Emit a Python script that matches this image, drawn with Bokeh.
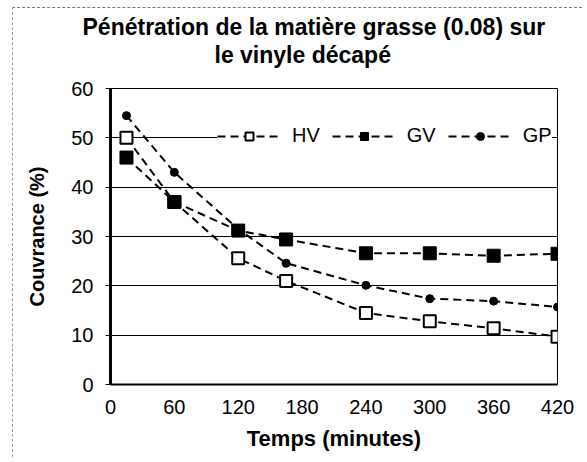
from bokeh.plotting import figure
from bokeh.models import Title, Legend, LegendItem, FixedTicker, Range1d
from bokeh.embed import file_html
from bokeh.resources import INLINE

# ---- data ----
temps = [15, 60, 120, 165, 240, 300, 360, 420]
hv = [50, 37, 25.6, 21.0, 14.5, 12.8, 11.4, 9.7]
gv = [46, 37, 31.2, 29.4, 26.6, 26.6, 26.1, 26.5]
gp = [54.5, 43, 31.5, 24.6, 20.1, 17.4, 16.9, 15.7]
x_ticks = [0, 60, 120, 180, 240, 300, 360, 420]
y_ticks = [0, 10, 20, 30, 40, 50, 60]
title_1 = "Pénétration de la matière grasse (0.08) sur"
title_2 = "le vinyle décapé"
x_label = "Temps (minutes)"
y_label = "Couvrance (%)"

FONT = "Liberation Sans"

p = figure(width=570, height=450, output_backend="svg", toolbar_location=None,
           x_range=Range1d(0, 420), y_range=Range1d(0, 60),
           min_border_left=97, min_border_right=26, min_border_top=80,
           min_border_bottom=74, margin=(7, 0, 0, 12))
p.title = None
p.background_fill_color = "white"
p.border_fill_color = "white"
p.outline_line_color = "black"
p.outline_line_width = 1
p.styles = {"border-top": "1px dashed #777", "border-left": "1px dashed #999"}

# spacer between frame and title, then the two title lines
spacer = Title(text=" ", text_font=FONT, text_font_size="10px", standoff=8)
t2 = Title(text=title_2, align="left", offset=104,
           text_font=FONT, text_font_size="23px", text_font_style="bold",
           text_color="black", text_line_height=0.95, standoff=0)
t1 = Title(text=title_1, align="left", offset=-28,
           text_font=FONT, text_font_size="23px", text_font_style="bold",
           text_color="black", text_line_height=0.95, standoff=0)
p.add_layout(spacer, "above")
p.add_layout(t2, "above")
p.add_layout(t1, "above")

# axes
p.xaxis.ticker = FixedTicker(ticks=x_ticks)
p.yaxis.ticker = FixedTicker(ticks=y_ticks)
for ax in (p.xaxis[0], p.yaxis[0]):
    ax.axis_line_color = "black"
    ax.major_label_text_font = FONT
    ax.major_label_text_font_size = "20px"
    ax.major_label_text_color = "black"
    ax.axis_label_text_font = FONT
    ax.axis_label_text_font_style = "bold"
    ax.axis_label_text_color = "black"
    ax.minor_tick_line_color = None
p.xaxis.axis_label = x_label
p.yaxis.axis_label = y_label
p.xaxis.axis_label_text_font_size = "22px"
p.yaxis.axis_label_text_font_size = "20px"
p.xaxis.axis_line_width = 2
p.yaxis.axis_line_width = 3
p.xaxis.major_tick_line_color = None
p.xaxis.major_tick_out = 0
p.xaxis.major_tick_in = 0
p.xaxis.major_label_standoff = 15
p.xaxis.axis_label_standoff = 9
p.yaxis.major_tick_in = 0
p.yaxis.major_tick_out = 5
p.yaxis.major_tick_line_color = "black"
p.yaxis.major_label_standoff = 12
p.yaxis.axis_label_standoff = 20

p.xgrid.grid_line_color = None
p.ygrid.grid_line_color = "black"
p.ygrid.grid_line_width = 1

DASH = "8 5"
l_hv = p.line(temps, hv, line_color="black", line_width=2, line_dash=DASH)
m_hv = p.scatter(temps, hv, marker="square", size=12, fill_color="white",
                 line_color="black", line_width=2)
l_gv = p.line(temps, gv, line_color="black", line_width=2, line_dash=DASH)
m_gv = p.scatter(temps, gv, marker="square", size=13, fill_color="black",
                 line_color="black")
l_gp = p.line(temps, gp, line_color="black", line_width=2, line_dash=DASH)
m_gp = p.scatter(temps, gp, marker="circle", size=8, fill_color="black",
                 line_color="black")

legend = Legend(items=[
    LegendItem(label="HV", renderers=[l_hv, m_hv]),
    LegendItem(label="GV", renderers=[l_gv, m_gv]),
    LegendItem(label="GP", renderers=[l_gp, m_gp]),
], orientation="horizontal", location=(107, 237), glyph_width=64,
    glyph_height=20, label_standoff=11, spacing=12, padding=10,
    label_text_font=FONT, label_text_font_size="20px",
    label_text_color="black", border_line_color=None,
    background_fill_color="white", background_fill_alpha=1.0, margin=0)
p.add_layout(legend, "center")

open("out.html", "w").write(file_html(p, INLINE))
